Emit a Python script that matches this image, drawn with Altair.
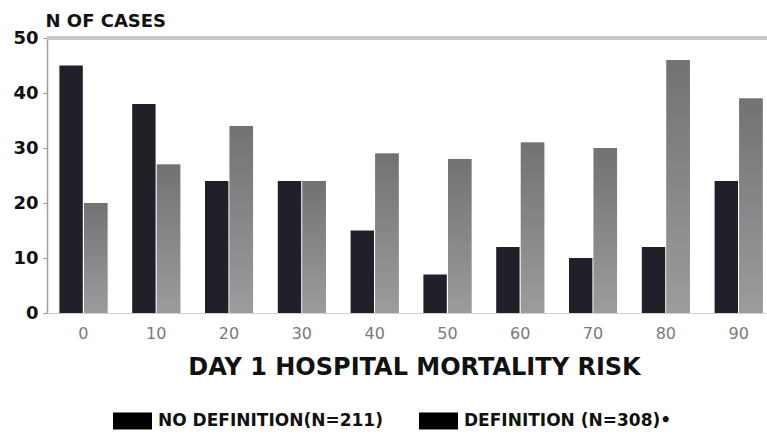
import altair as alt
import pandas as pd

categories = ["0", "10", "20", "30", "40", "50", "60", "70", "80", "90"]
no_definition = [45, 38, 24, 24, 15, 7, 12, 10, 12, 24]
definition = [20, 27, 34, 24, 29, 28, 31, 30, 46, 39]
series_names = ["NO DEFINITION(N=211)", "DEFINITION (N=308)•"]
y_ticks = [0, 10, 20, 30, 40, 50]

rows = []
for c, a, b in zip(categories, no_definition, definition):
    rows.append({"risk": c, "series": series_names[0], "cases": a})
    rows.append({"risk": c, "series": series_names[1], "cases": b})
df = pd.DataFrame(rows)

FONT = "DejaVu Sans"

x_enc = alt.X(
    "risk:N",
    sort=categories,
    scale=alt.Scale(paddingInner=0.34, paddingOuter=0.115, align=0.74),
    axis=alt.Axis(
        title="DAY 1 HOSPITAL MORTALITY RISK",
        labelAngle=0,
        labelFont=FONT,
        labelFontSize=16,
        labelColor="#7a7a7a",
        labelPadding=12,
        ticks=False,
        domainColor="#d0d0d0",
        domainWidth=1,
        titleFont=FONT,
        titleFontSize=24,
        titleFontWeight="bold",
        titleColor="#111111",
        titleX=367,
        titleY=61,
        titleAlign="center",
        titleBaseline="alphabetic",
        grid=False,
    ),
)
y_enc = alt.Y(
    "cases:Q",
    scale=alt.Scale(domain=[0, 50], nice=False),
    axis=alt.Axis(
        title="N OF CASES",
        values=y_ticks,
        labelFont=FONT,
        labelFontSize=18,
        labelFontWeight="bold",
        labelColor="#111111",
        labelPadding=5,
        tickSize=4,
        tickColor="#999999",
        domainColor="#a0a0a0",
        domainWidth=1.5,
        grid=False,
        titleFont=FONT,
        titleFontSize=18,
        titleFontWeight="bold",
        titleColor="#111111",
        titleAngle=0,
        titleX=-2,
        titleY=-12,
        titleAlign="left",
        titleBaseline="alphabetic",
    ),
)
xoff = alt.XOffset("series:N", sort=series_names, scale=alt.Scale(paddingInner=0.05))

bars = alt.Chart(df).mark_bar().encode(
    x=x_enc,
    y=y_enc,
    xOffset=xoff,
    color=alt.Color(
        "series:N",
        sort=series_names,
        scale=alt.Scale(domain=series_names, range=["#202028", "#8c8c8c"]),
        legend=None,
    ),
)

gray_overlay = alt.Chart(df).transform_filter(
    alt.datum.series == series_names[1]
).mark_bar(
    fill=alt.Gradient(
        gradient="linear",
        x1=0, x2=0, y1=0, y2=1,
        stops=[alt.GradientStop(offset=0, color="#727272"), alt.GradientStop(offset=1, color="#9c9c9c")],
    )
).encode(x=x_enc, y=y_enc, xOffset=xoff)

# zero-height bars that only carry the legend (both swatches black, as printed)
legend_layer = alt.Chart(df).mark_bar(strokeWidth=0).encode(
    x=x_enc,
    xOffset=xoff,
    y=y_enc,
    y2=alt.Y2("cases:Q"),
    fill=alt.Fill(
        "series:N",
        sort=series_names,
        scale=alt.Scale(domain=series_names, range=["#000000", "#000000"]),
        legend=alt.Legend(
            title=None,
            orient="none",
            direction="horizontal",
            legendX=66,
            legendY=363,
            symbolType="M-1,-0.44H1V0.44H-1Z",
            symbolSize=1521,
            symbolStrokeWidth=0,
            symbolOpacity=1,
            labelFont=FONT,
            labelFontSize=17,
            labelFontWeight="bold",
            labelColor="#111111",
            labelOffset=6,
            labelLimit=400,
            columnPadding=36,
            padding=0,
        ),
    ),
)

top_rule = alt.Chart().mark_rule(color="#c6c6c6", strokeWidth=4).encode(y=alt.datum(50))

chart = alt.layer(bars, gray_overlay, legend_layer, top_rule).resolve_scale(
    color="independent", fill="independent"
).properties(
    width=720,
    height=275,
    autosize=alt.AutoSizeParams(type="none"),
    padding={"left": 47, "top": 38, "right": 0, "bottom": 123},
    background="white",
).configure_view(stroke=None)

chart.save("out.html", embed_options={"renderer": "svg", "actions": False})
